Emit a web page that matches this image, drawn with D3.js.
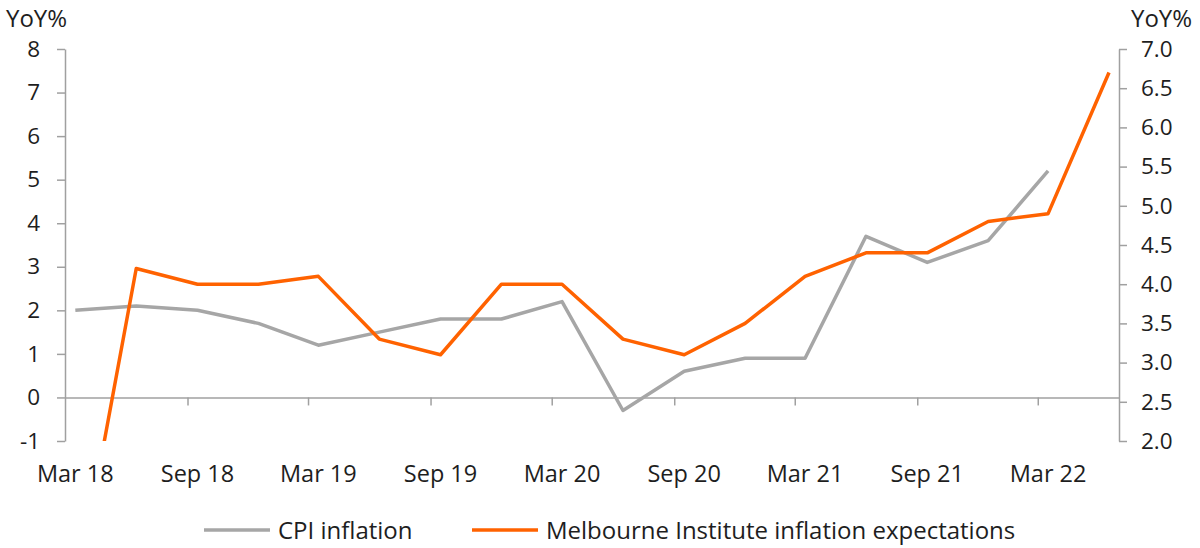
<!DOCTYPE html>
<html>
<head>
<meta charset="utf-8">
<script src="https://cdn.jsdelivr.net/npm/d3@7"></script>
<style>
  body { margin: 0; background: #fff; }
  text { font-family: "Open Sans", "Noto Sans", sans-serif; fill: #1e1e1e; }
</style>
</head>
<body>
<div id="chart"></div>
<script>
// Quarter-end months, Mar 18 to Jun 22
var quarters = ["2018-03", "2018-06", "2018-09", "2018-12",
                "2019-03", "2019-06", "2019-09", "2019-12",
                "2020-03", "2020-06", "2020-09", "2020-12",
                "2021-03", "2021-06", "2021-09", "2021-12",
                "2022-03", "2022-06"];

// CPI inflation, YoY% (left axis) - no Jun 22 print yet
var cpi = [2.0, 2.1, 2.0, 1.7, 1.2, 1.5, 1.8, 1.8, 2.2, -0.3, 0.6, 0.9, 0.9, 3.7, 3.1, 3.6, 5.2, null];

// Melbourne Institute inflation expectations, YoY% (right axis)
// first value sits below the axis floor and gets clipped, as in the original
var expectations = [0, 4.2, 4.0, 4.0, 4.1, 3.3, 3.1, 4.0, 4.0, 3.3, 3.1, 3.5, 4.1, 4.4, 4.4, 4.8, 4.9, 6.7];

// Axis ticks and labels
var leftTicks = [-1, 0, 1, 2, 3, 4, 5, 6, 7, 8];
var rightTicks = [2.0, 2.5, 3.0, 3.5, 4.0, 4.5, 5.0, 5.5, 6.0, 6.5, 7.0];
var labelMonths = ["2018-03", "2018-09", "2019-03", "2019-09", "2020-03",
                   "2020-09", "2021-03", "2021-09", "2022-03"];
var labelText = ["Mar 18", "Sep 18", "Mar 19", "Sep 19", "Mar 20",
                 "Sep 20", "Mar 21", "Sep 21", "Mar 22"];

var w = 1200, h = 548;
var plotLeft = 65, plotRight = 1119, plotTop = 49, plotBottom = 441;
var grey = "#a6a6a6", orange = "#ff6200", axisGrey = "#a0a0a0";

var parseMonth = d3.timeParse("%Y-%m");

var x = d3.scaleTime()
    .domain([parseMonth("2018-03"), parseMonth("2022-07")])
    .range([plotLeft, plotRight]);

// middle of a month on the date axis
function xMid(m) {
    var d = parseMonth(m);
    return (x(d) + x(d3.timeMonth.offset(d, 1))) / 2;
}

var yL = d3.scaleLinear().domain([-1, 8]).range([plotBottom, plotTop]);
var yR = d3.scaleLinear().domain([2, 7]).range([plotBottom, plotTop]);

var svg = d3.select("#chart").append("svg")
    .attr("width", w)
    .attr("height", h);

svg.append("defs").append("clipPath")
    .attr("id", "plot")
    .append("rect")
    .attr("x", plotLeft)
    .attr("y", plotTop - 5)
    .attr("width", plotRight - plotLeft + 5)
    .attr("height", plotBottom - plotTop + 5);

// x axis along the zero line, ticks every six months
var tickMonths = labelMonths.slice(1).map(parseMonth);
var xAxis = svg.append("g")
    .attr("transform", "translate(0," + yL(0) + ")")
    .call(d3.axisBottom(x).tickValues(tickMonths).tickSize(8).tickSizeOuter(0).tickFormat(""));
xAxis.selectAll("path, line").attr("stroke", axisGrey).attr("stroke-width", 1.5);

svg.selectAll(".xlabel")
    .data(labelMonths)
    .enter()
    .append("text")
    .attr("class", "xlabel")
    .attr("x", function(d) { return xMid(d); })
    .attr("y", 482)
    .attr("text-anchor", "middle")
    .attr("font-size", 23.5)
    .text(function(d, i) { return labelText[i]; });

// left axis (plain hyphen for negatives, as in the original)
var gL = svg.append("g")
    .attr("transform", "translate(" + plotLeft + ",0)")
    .call(d3.axisLeft(yL).tickValues(leftTicks).tickSize(8).tickSizeOuter(0).tickPadding(17)
        .tickFormat(function(d) { return String(d); }));
gL.selectAll("path, line").attr("stroke", axisGrey).attr("stroke-width", 1.5);
gL.selectAll("text").attr("font-size", 22.5).attr("fill", "#1e1e1e").attr("font-family", null);

// right axis
var gR = svg.append("g")
    .attr("transform", "translate(" + plotRight + ",0)")
    .call(d3.axisRight(yR).tickValues(rightTicks).tickSize(8).tickSizeOuter(0).tickPadding(14).tickFormat(d3.format(".1f")));
gR.selectAll("path, line").attr("stroke", axisGrey).attr("stroke-width", 1.5);
gR.selectAll("text").attr("font-size", 22.5).attr("fill", "#1e1e1e").attr("font-family", null);

// axis titles
svg.append("text").attr("x", 6).attr("y", 27).attr("font-size", 24).text("YoY%");
svg.append("text").attr("x", 1131).attr("y", 27).attr("font-size", 24).text("YoY%");

// lines
var cpiLine = d3.line()
    .defined(function(d) { return d != null; })
    .x(function(d, i) { return xMid(quarters[i]); })
    .y(function(d) { return yL(d); });

var expLine = d3.line()
    .x(function(d, i) { return xMid(quarters[i]); })
    .y(function(d) { return yR(d); });

var plot = svg.append("g").attr("clip-path", "url(#plot)");

plot.append("path")
    .datum(cpi)
    .attr("d", cpiLine)
    .attr("fill", "none")
    .attr("stroke", grey)
    .attr("stroke-width", 3.5)
    .attr("stroke-linejoin", "round");

plot.append("path")
    .datum(expectations)
    .attr("d", expLine)
    .attr("fill", "none")
    .attr("stroke", orange)
    .attr("stroke-width", 3.5)
    .attr("stroke-linejoin", "round");

// legend
var legend = [
    { name: "CPI inflation", color: grey, x: 204 },
    { name: "Melbourne Institute inflation expectations", color: orange, x: 472 }
];
var lg = svg.selectAll(".legend")
    .data(legend)
    .enter()
    .append("g")
    .attr("class", "legend")
    .attr("transform", function(d) { return "translate(" + d.x + ",530)"; });
lg.append("line")
    .attr("x1", 0).attr("x2", 66)
    .attr("stroke", function(d) { return d.color; })
    .attr("stroke-width", 3.5);
lg.append("text")
    .attr("x", 74)
    .attr("y", 8.5)
    .attr("font-size", 24)
    .text(function(d) { return d.name; });
</script>
</body>
</html>
